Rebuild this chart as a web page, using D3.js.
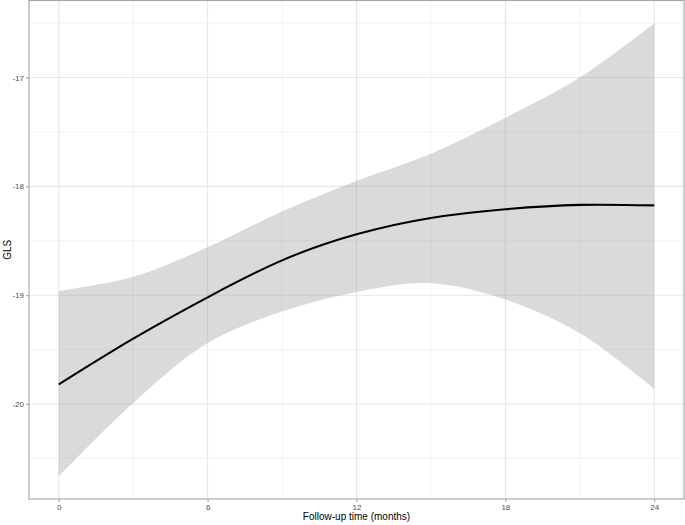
<!DOCTYPE html>
<html>
<head>
<meta charset="utf-8">
<script src="https://cdn.jsdelivr.net/npm/d3@7"></script>
<style>
  html, body { margin: 0; padding: 0; background: #fff; }
  svg { display: block; font-family: "Liberation Sans", Arial, Helvetica, sans-serif; }
</style>
</head>
<body>
<svg id="chart" width="685" height="525"></svg>
<script>
// ---- data ----
const months = [0, 3, 6, 9, 12, 15, 18, 21, 24];
const fitGLS = [-19.82, -19.40, -19.02, -18.68, -18.44, -18.29, -18.21, -18.17, -18.175];
const upperGLS = [-18.96, -18.83, -18.56, -18.23, -17.95, -17.70, -17.37, -17.00, -16.50];
const lowerGLS = [-20.665, -19.99, -19.44, -19.15, -18.97, -18.89, -19.04, -19.35, -19.86];
const xTicks = [0, 6, 12, 18, 24];
const xMinor = [3, 9, 15, 21];
const yTicks = [-20, -19, -18, -17];
const yMinor = [-20.5, -19.5, -18.5, -17.5, -16.5];
const xTitle = "Follow-up time (months)";
const yTitle = "GLS";

// ---- layout ----
const svg = d3.select("#chart");
const panel = { left: 29, top: 0.5, right: 684, bottom: 499 };

const xDomain = d3.extent(months);
const xPad = (xDomain[1] - xDomain[0]) * 0.05;
const x = d3.scaleLinear()
  .domain([xDomain[0] - xPad, xDomain[1] + xPad])
  .range([panel.left, panel.right]);

const yMinV = d3.min(lowerGLS), yMaxV = d3.max(upperGLS);
const yPad = (yMaxV - yMinV) * 0.05;
const y = d3.scaleLinear()
  .domain([yMinV - yPad, yMaxV + yPad])
  .range([panel.bottom, panel.top]);

const data = months.map((m, i) => ({ m, fit: fitGLS[i], lo: lowerGLS[i], hi: upperGLS[i] }));

// grid
const g = svg.append("g");
g.selectAll("line.xminor").data(xMinor).join("line")
  .attr("x1", d => x(d)).attr("x2", d => x(d))
  .attr("y1", panel.top).attr("y2", panel.bottom)
  .attr("stroke", "#ebebeb").attr("stroke-width", 0.6);
g.selectAll("line.yminor").data(yMinor.filter(v => y(v) > panel.top && y(v) < panel.bottom)).join("line")
  .attr("y1", d => y(d)).attr("y2", d => y(d))
  .attr("x1", panel.left).attr("x2", panel.right)
  .attr("stroke", "#ebebeb").attr("stroke-width", 0.6);
g.append("g").selectAll("line").data(xTicks).join("line")
  .attr("x1", d => x(d)).attr("x2", d => x(d))
  .attr("y1", panel.top).attr("y2", panel.bottom)
  .attr("stroke", "#e6e6e6").attr("stroke-width", 1.1);
g.append("g").selectAll("line").data(yTicks).join("line")
  .attr("y1", d => y(d)).attr("y2", d => y(d))
  .attr("x1", panel.left).attr("x2", panel.right)
  .attr("stroke", "#e6e6e6").attr("stroke-width", 1.1);

// ribbon
const area = d3.area()
  .x(d => x(d.m)).y0(d => y(d.lo)).y1(d => y(d.hi))
  .curve(d3.curveCatmullRom.alpha(0.5));
svg.append("path").datum(data)
  .attr("d", area)
  .attr("fill", "#999999").attr("fill-opacity", 0.36);

// line
const line = d3.line().x(d => x(d.m)).y(d => y(d.fit)).curve(d3.curveNatural);
svg.append("path").datum(data)
  .attr("d", line)
  .attr("fill", "none").attr("stroke", "#000").attr("stroke-width", 2.1);

// panel border
svg.append("rect")
  .attr("x", panel.left).attr("y", panel.top)
  .attr("width", panel.right - panel.left).attr("height", panel.bottom - panel.top)
  .attr("fill", "none").attr("stroke", "#a3a3a3").attr("stroke-width", 1.1);

// axes
const xAxis = svg.append("g")
  .attr("transform", `translate(0,${panel.bottom})`)
  .call(d3.axisBottom(x).tickValues(xTicks).tickSize(3).tickPadding(2).tickFormat(d3.format("d")));
const yAxis = svg.append("g")
  .attr("transform", `translate(${panel.left},0)`)
  .call(d3.axisLeft(y).tickValues(yTicks).tickSize(3).tickPadding(2).tickFormat(d => d3.format("d")(d).replace("−", "-")));
[xAxis, yAxis].forEach(a => {
  a.select(".domain").remove();
  a.selectAll(".tick line").attr("stroke", "#a3a3a3").attr("stroke-width", 1.1);
  a.selectAll(".tick text").attr("fill", "#4d4d4d").attr("font-size", "8px")
    .attr("font-family", "'Liberation Sans', Arial, sans-serif");
});

// titles
svg.append("text")
  .attr("x", (panel.left + panel.right) / 2).attr("y", 519.5)
  .attr("text-anchor", "middle").attr("font-size", "10px").attr("fill", "#000")
  .text(xTitle);
svg.append("text")
  .attr("transform", `translate(10.5,${(panel.top + panel.bottom) / 2}) rotate(-90)`)
  .attr("text-anchor", "middle").attr("font-size", "10px").attr("fill", "#000")
  .text(yTitle);
</script>
</body>
</html>
